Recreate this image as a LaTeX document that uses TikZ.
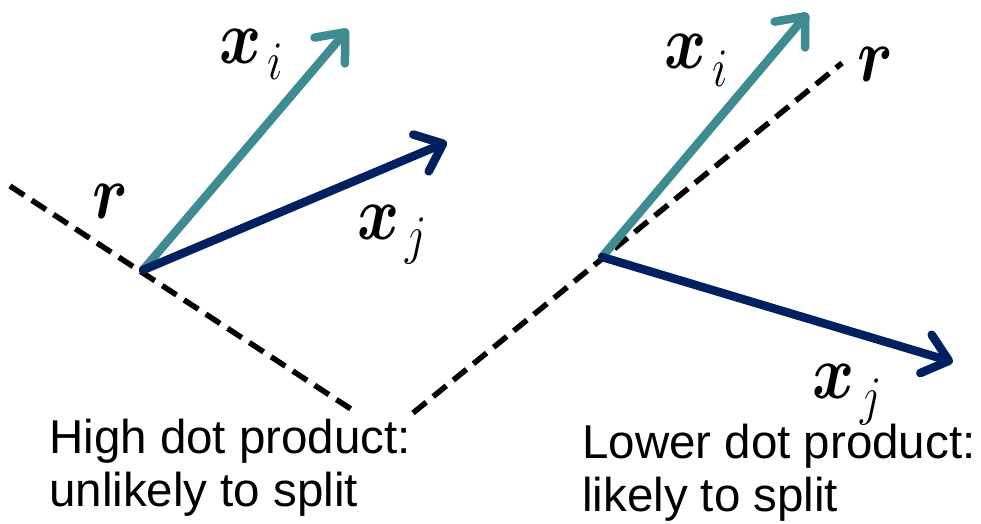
\RequirePackage{fix-cm}
\documentclass[tikz,border=0pt]{standalone}
\usepackage{amsmath,amssymb}
\usepackage{graphicx}
\usepackage{fontspec}
\newfontfamily\capfont{Liberation Sans}
\usetikzlibrary{arrows.meta}
\definecolor{tealvec}{HTML}{3E8C91}
\definecolor{navyvec}{HTML}{002060}
\newcommand{\vlab}[2]{\scalebox{1}[1.2]{\fontsize{64}{64}\selectfont$\boldsymbol{x}$}\hspace{6pt}\raisebox{#2}{\scalebox{1}[1.18]{\fontsize{46}{46}\selectfont$#1$}}}
\newcommand{\rlab}{\scalebox{1}[1.2]{\fontsize{64}{64}\selectfont$\boldsymbol{r}$}}
\tikzset{
  vec/.style={line width=8.5pt, line cap=round,
    -{Straight Barb[length=24pt,width=40pt,line cap=round,line join=round]}},
  vi/.style={vec, tealvec},
  vj/.style={vec, navyvec},
  hyper/.style={line width=5.5pt, dash pattern=on 17pt off 9pt, black},
  mlab/.style={inner sep=0pt, anchor=base west},
  caption/.style={inner sep=0pt, anchor=north west, align=left,
    font=\capfont\fontsize{47.5}{53}\selectfont}
}
\begin{document}
\begin{tikzpicture}[x=1pt,y=-1pt]
\useasboundingbox (0,0) rectangle (981,523);
% left panel
\coordinate (o1) at (143,270);
\coordinate (l1a) at (10,186);
\coordinate (l1b) at (357,413);
\coordinate (ti1) at (348,29);
\coordinate (tj1) at (447,142);
\draw[hyper] (l1a) -- (l1b);
\draw[vi] (o1) -- (ti1);
\draw[vj] (o1) -- (tj1);
\node[mlab] (xi1) at (219,63) {\vlab{i}{-16pt}};
\node[mlab] (xj1) at (357,239) {\vlab{j}{-14pt}};
\node[mlab] (r1) at (92,218) {\rlab};
% right panel
\coordinate (o2) at (602,257);
\coordinate (l2a) at (413,413);
\coordinate (l2b) at (842,63);
\coordinate (ti2) at (808,13);
\coordinate (tj2) at (953,362);
\draw[hyper] (l2a) -- (l2b);
\draw[vi] (o2) -- (ti2);
\draw[vj] (o2) -- (tj2);
\node[mlab] (xi2) at (664,68) {\vlab{i}{-18pt}};
\node[mlab] (xj2) at (812,398) {\vlab{j}{-16pt}};
\node[mlab] (r2) at (857,81) {\rlab};
% captions
\node[caption] (c1) at (49,419) {High dot product:\\unlikely to split};
\node[caption] (c2) at (582,424) {Lower dot product:\\likely to split};
\end{tikzpicture}
\end{document}
